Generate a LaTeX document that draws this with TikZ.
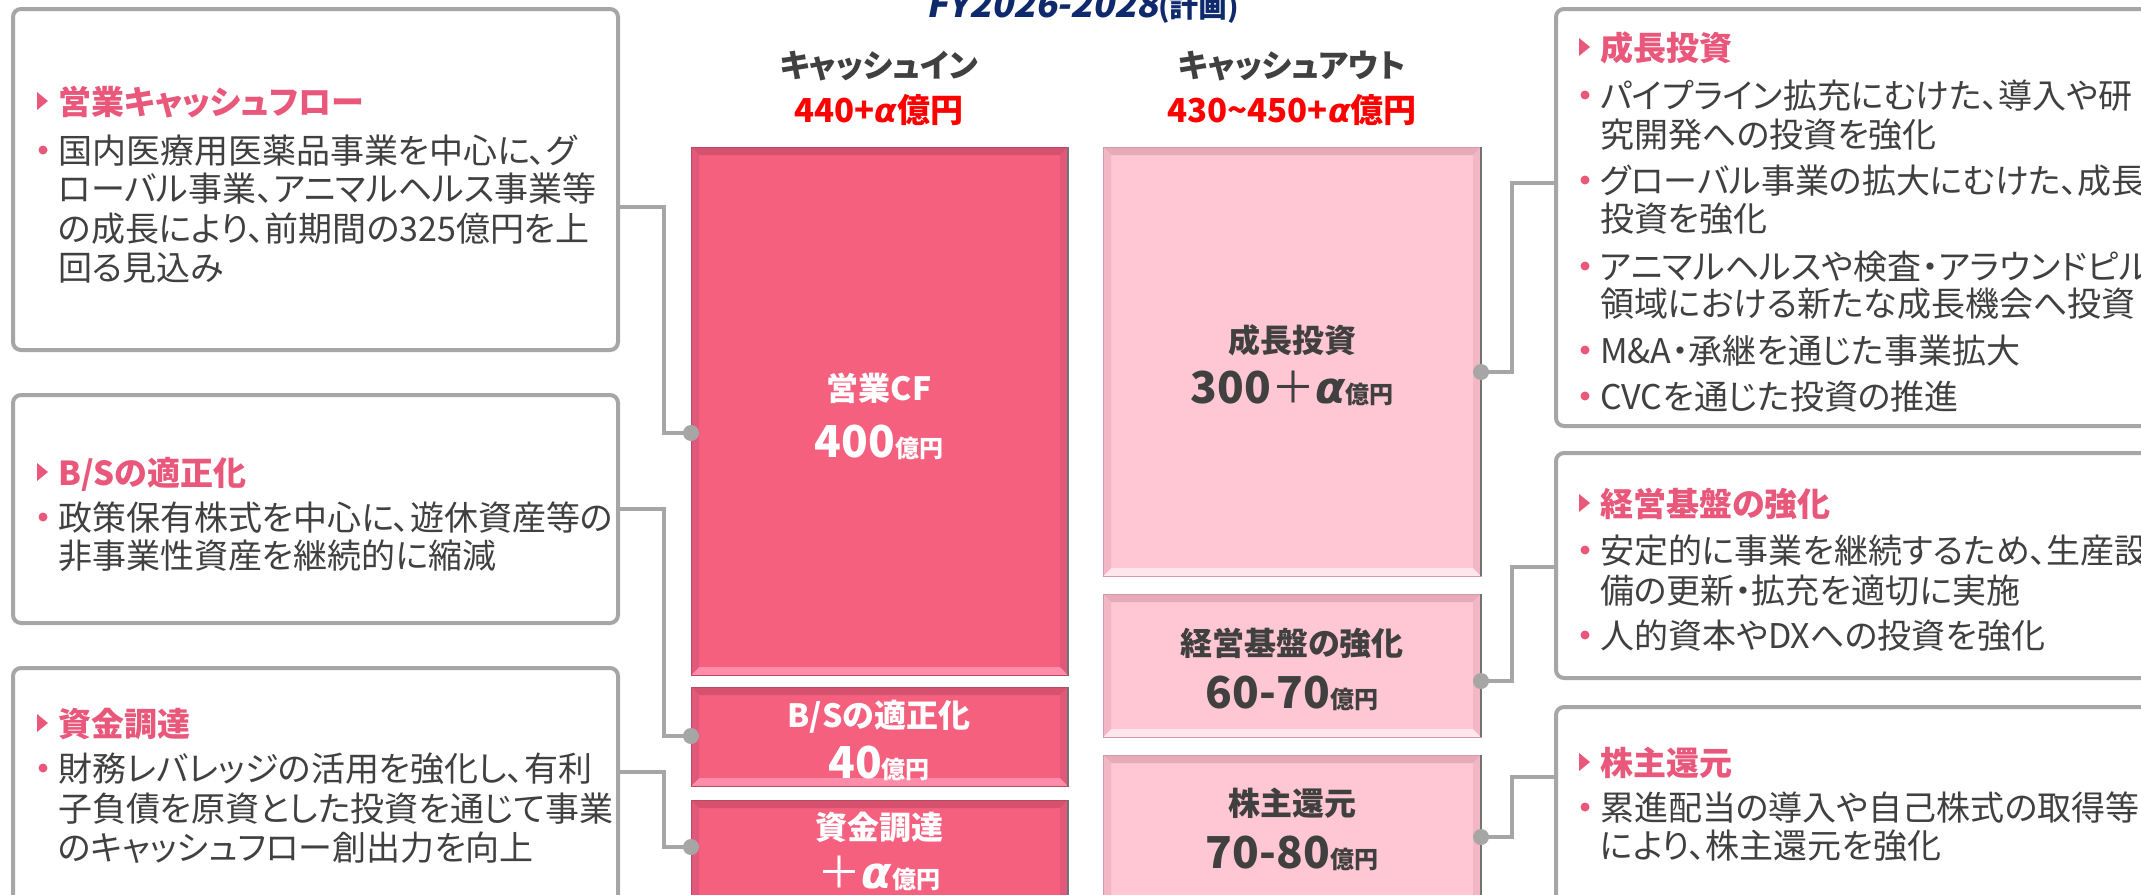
\documentclass[tikz,border=0pt]{standalone}
\usepackage{fontspec}
\setmainfont{Noto Sans CJK JP}[RawFeature=+palt]
\newfontfamily\ttlfont{Noto Sans CJK JP}[FakeSlant=0.2]
\newfontfamily\alf{DejaVu Sans}
\definecolor{boxgray}{HTML}{A6A6A6}
\definecolor{txtgray}{HTML}{404040}
\definecolor{ttlpink}{HTML}{E9577B}
\definecolor{navy}{HTML}{0F2A6C}
\definecolor{hdrred}{HTML}{FF0000}
\definecolor{redfill}{HTML}{F5607F}
\definecolor{redtop}{HTML}{D5516E}
\definecolor{redside}{HTML}{E2587A}
\definecolor{redbot}{HTML}{FF8DA9}
\definecolor{rededge}{HTML}{B94A64}
\definecolor{pinkfill}{HTML}{FFC6D3}
\definecolor{pinktop}{HTML}{E6AAB8}
\definecolor{pinkside}{HTML}{F2B6C4}
\definecolor{pinkbot}{HTML}{FFE6EC}
\definecolor{pinkedge}{HTML}{D29AA8}
\newcommand\alp{{\alf\bfseries\itshape α}}
\newcommand\bnum[1]{{\fontsize{44}{44}\selectfont #1}}
\newcommand\byen{{\fontsize{24}{24}\selectfont 億円}}
\newcommand\bevbar[6]{%
  \node[draw=#6edge, line width=1, fill=#6fill, inner sep=0, outer sep=0,
        minimum width={#4-#2}, minimum height={#5-#3}, anchor=north west] (#1) at (#2,#3) {};
  \fill[#6top] (#2,#3) -- (#4,#3) -- ({#4-8},{#3+8}) -- ({#2+8},{#3+8}) -- cycle;
  \fill[#6bot] (#2,#5) -- (#4,#5) -- ({#4-8},{#5-8}) -- ({#2+8},{#5-8}) -- cycle;
  \fill[#6side] (#2,#3) -- ({#2+8},{#3+8}) -- ({#2+8},{#5-8}) -- (#2,#5) -- cycle;
  \fill[#6side] (#4,#3) -- ({#4-8},{#3+8}) -- ({#4-8},{#5-8}) -- (#4,#5) -- cycle;
  \draw[#6edge, line width=1] (#2,#3) rectangle (#4,#5);
  \draw[black!55, line width=1.5] (#4,#3) -- (#4,#5);
}
\newcommand\ttlline[4]{%
  \fill[ttlpink] ({#2-21},{#3-22}) -- ({#2-10},{#3-13}) -- ({#2-21},{#3-4}) -- cycle;
  \node[ttl] (#1) at (#2,#3) {#4};
}
\newcommand\bulline[4]{%
  \fill[ttlpink] ({#2-15},{#3-13}) circle (4.5);
  \node[txt] (#1) at (#2,#3) {#4};
}
\newcommand\contline[4]{\node[txt] (#1) at (#2,#3) {#4};}
\begin{document}
\begin{tikzpicture}[x=1pt,y=-1pt,
  infobox/.style={draw=boxgray, line width=4, rounded corners=8, fill=white,
                  inner sep=0, outer sep=0, anchor=north west},
  conn/.style={draw=boxgray, line width=4},
  dotc/.style={fill=boxgray},
  txt/.style={anchor=base west, inner sep=0, text=txtgray, font=\fontsize{34}{40}\selectfont},
  ttl/.style={anchor=base west, inner sep=0, text=ttlpink, font=\bfseries\fontsize{33}{40}\selectfont},
  hdr/.style={anchor=base, inner sep=0, text=txtgray, font=\bfseries\fontsize{32}{36}\selectfont},
  hdrv/.style={anchor=base, inner sep=0, text=hdrred, font=\bfseries\fontsize{33}{36}\selectfont},
  barw/.style={anchor=base, inner sep=0, text=white, font=\bfseries\fontsize{32}{36}\selectfont},
  barg/.style={anchor=base, inner sep=0, text=txtgray, font=\bfseries\fontsize{32}{36}\selectfont}]
\useasboundingbox (0,0) rectangle (2141,894);
\clip (0,0) rectangle (2141,894);
\fill[white] (0,0) rectangle (2141,894);

% title and headers
\node[anchor=base west, inner sep=0, text=navy] (title) at (926,17)
  {{\ttlfont\bfseries\fontsize{36}{36}\selectfont FY2026-2028}{\bfseries\fontsize{29}{29}\selectfont(計画)}};
\node[hdr] (hin) at (879,77) {キャッシュイン};
\node[hdrv] (hinv) at (879,122) {440+\alp 億円};
\node[hdr] (hout) at (1292,77) {キャッシュアウト};
\node[hdrv] (houtv) at (1292,122) {430{\char"7E}450+\alp 億円};

% bars
\bevbar{cf}{691}{147}{1068}{675}{red}
\bevbar{bs}{691}{687}{1068}{786}{red}
\bevbar{fin}{691}{800}{1068}{910}{red}
\bevbar{gi}{1103}{147}{1481}{576}{pink}
\bevbar{mb}{1103}{594}{1481}{737}{pink}
\bevbar{sr}{1103}{755}{1481}{910}{pink}

% bar labels
\node[barw] (cf-t) at (879,400) {営業CF};
\node[barw] (cf-v) at (879,457) {\bnum{400}\byen};
\node[barw] (bs-t) at (879,727) {B/Sの適正化};
\node[barw] (bs-v) at (879,778) {\bnum{40}\byen};
\node[barw] (fin-t) at (879,839) {資金調達};
\node[barw] (fin-v) at (879,888) {\bnum{{\mdseries ＋}\alp}\byen};
\node[barg] (gi-t) at (1292,352) {成長投資};
\node[barg] (gi-v) at (1292,403) {\bnum{300{\mdseries ＋}\alp}\byen};
\node[barg] (mb-t) at (1292,655) {経営基盤の強化};
\node[barg] (mb-v) at (1292,708) {\bnum{60-70}\byen};
\node[barg] (sr-t) at (1292,815) {株主還元};
\node[barg] (sr-v) at (1292,868) {\bnum{70-80}\byen};

% info boxes
\node[infobox, minimum width=605, minimum height=341] (lb1) at (13,9) {};
\node[infobox, minimum width=605, minimum height=228] (lb2) at (13,395) {};
\node[infobox, minimum width=605, minimum height=252] (lb3) at (13,668) {};
\node[infobox, minimum width=620, minimum height=417] (rb1) at (1556,9) {};
\node[infobox, minimum width=620, minimum height=225] (rb2) at (1556,453) {};
\node[infobox, minimum width=620, minimum height=213] (rb3) at (1556,707) {};

% connector end points
\coordinate (d1) at (cf.west |- 0,433);
\coordinate (d2) at (bs.west |- 0,736);
\coordinate (d3) at (fin.west |- 0,847);
\coordinate (d4) at (gi.east |- 0,372);
\coordinate (d5) at (mb.east |- 0,681);
\coordinate (d6) at (sr.east |- 0,837);

\draw[conn] (lb1.east |- 0,207) -- (664,207) |- (d1);
\draw[conn] (lb2.east |- 0,509) -- (664,509) |- (d2);
\draw[conn] (lb3.east |- 0,772) -- (664,772) |- (d3);
\draw[conn] (d4) -- (1512,372) |- (rb1.west |- 0,183);
\draw[conn] (d5) -- (1512,681) |- (rb2.west |- 0,567);
\draw[conn] (d6) -- (1512,837) |- (rb3.west |- 0,777);
\foreach \d in {d1,d2,d3,d4,d5,d6} \fill[dotc] (\d) circle (8);

% left box texts
\ttlline{l1t}{58}{114}{営業キャッシュフロー}
\bulline{l1a}{58}{163}{国内医療用医薬品事業を中心に、グ}
\contline{l1b}{58}{201}{ローバル事業、アニマルヘルス事業等}
\contline{l1c}{58}{241}{の成長により、前期間の325億円を上}
\contline{l1d}{58}{280}{回る見込み}

\ttlline{l2t}{58}{485}{B/Sの適正化}
\bulline{l2a}{58}{530}{政策保有株式を中心に、遊休資産等の}
\contline{l2b}{58}{568}{非事業性資産を継続的に縮減}

\ttlline{l3t}{58}{736}{資金調達}
\bulline{l3a}{58}{781}{財務レバレッジの活用を強化し、有利}
\contline{l3b}{58}{821}{子負債を原資とした投資を通じて事業}
\contline{l3c}{58}{860}{のキャッシュフロー創出力を向上}

% right box texts
\ttlline{r1t}{1600}{60}{成長投資}
\bulline{r1a}{1600}{108}{パイプライン拡充にむけた、導入や研}
\contline{r1b}{1600}{147}{究開発への投資を強化}
\bulline{r1c}{1600}{193}{グローバル事業の拡大にむけた、成長}
\contline{r1d}{1600}{231}{投資を強化}
\bulline{r1e}{1600}{279}{アニマルヘルスや検査・アラウンドピル}
\contline{r1f}{1600}{316}{領域における新たな成長機会へ投資}
\bulline{r1g}{1600}{363}{M\&A・承継を通じた事業拡大}
\bulline{r1h}{1600}{409}{CVCを通じた投資の推進}

\ttlline{r2t}{1600}{516}{経営基盤の強化}
\bulline{r2a}{1600}{563}{安定的に事業を継続するため、生産設}
\contline{r2b}{1600}{603}{備の更新・拡充を適切に実施}
\bulline{r2c}{1600}{648}{人的資本やDXへの投資を強化}

\ttlline{r3t}{1600}{775}{株主還元}
\bulline{r3a}{1600}{820}{累進配当の導入や自己株式の取得等}
\contline{r3b}{1600}{858}{により、株主還元を強化}
\end{tikzpicture}
\end{document}
